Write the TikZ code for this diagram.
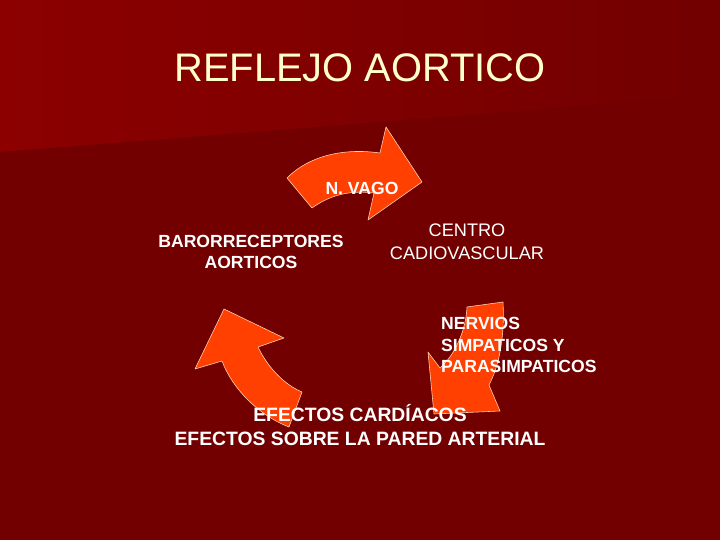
\documentclass[tikz,border=0pt]{standalone}
\usepackage{fontspec}
\setmainfont{Liberation Sans}
\definecolor{slidedark}{HTML}{720000}
\definecolor{slidelight}{HTML}{8C0000}
\definecolor{arrowred}{HTML}{FF4000}
\definecolor{arrowedge}{HTML}{FFD2B4}
\definecolor{titlecream}{HTML}{FFFFCC}
\begin{document}
\begin{tikzpicture}[x=0.03cm,y=-0.03cm,line join=round]
	\tikzset{blockarrow/.style={fill=arrowred,draw=arrowedge,line width=0.5pt},
		boldlbl/.style={text=white,font=\fontsize{15}{18.5}\selectfont\bfseries,inner sep=0pt,align=center},
		plainlbl/.style={text=white,font=\fontsize{15.5}{19.5}\selectfont,inner sep=0pt,align=center}}
	\useasboundingbox (0,0) rectangle (720,540);
	\fill[slidedark] (0,0) rectangle (720,540);
	\shade[left color=slidelight,right color=slidedark] (0,0)--(720,0)--(720,95)--(0,152)--cycle;
	% curved block arrows
	\draw[blockarrow] (287,178) .. controls (310,155) and (345,148) .. (380,153)
		-- (386,127) -- (422,182) -- (368,220) -- (374,193)
		.. controls (350,190) and (330,195) .. (312,208) -- cycle;
	\draw[blockarrow] (467,307) -- (503,302) .. controls (505,340) and (498,368) .. (489,385)
		-- (500,411) -- (434,414) -- (428,352) -- (440,368)
		.. controls (455,355) and (466,330) .. (467,307) -- cycle;
	\draw[blockarrow] (302,392) .. controls (285,385) and (268,368) .. (258,347)
		-- (284,338) -- (224,309) -- (195,369) -- (222,361)
		.. controls (232,388) and (258,415) .. (289,427) -- cycle;
	% texts
	\node[text=titlecream,font=\fontsize{34}{40}\selectfont,inner sep=0pt] (titulo) at (360,68) {REFLEJO AORTICO};
	\node[boldlbl] (vago) at (362,188) {N. VAGO};
	\node[boldlbl] (baro) at (251,252) {BARORRECEPTORES\\AORTICOS};
	\node[plainlbl] (centro) at (467,242) {CENTRO\\CADIOVASCULAR};
	\node[boldlbl,align=left,anchor=west] (nervios) at (441,345) {NERVIOS\\SIMPATICOS Y\\PARASIMPATICOS};
	\node[boldlbl,font=\fontsize{16.5}{21}\selectfont\bfseries] (efectos) at (360,425) {EFECTOS CARDÍACOS\\EFECTOS SOBRE LA PARED ARTERIAL};
\end{tikzpicture}
\end{document}
